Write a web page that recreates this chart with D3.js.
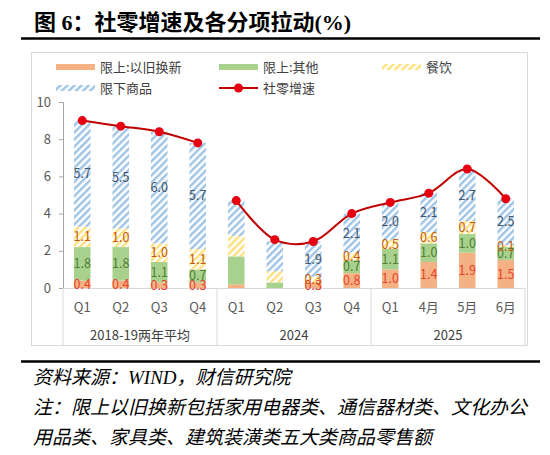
<!DOCTYPE html>
<html lang="zh">
<head>
    <meta charset="utf-8" />
    <title>社零增速及各分项拉动</title>
    <script src="https://d3js.org/d3.v7.min.js"></script>
    <style>
        body { margin: 0; background: #fff; }
        svg { display: block; }
    </style>
</head>
<body>
    <script>
        var w = 550;
        var h = 455;

        // chart data
        var categories = ["Q1", "Q2", "Q3", "Q4", "Q1", "Q2", "Q3", "Q4", "Q1", "4月", "5月", "6月"];
        var groupNames = ["2018-19两年平均", "2024", "2025"];
        var groupSizes = [4, 4, 4];
        var yijiuhuanxin = [0.4, 0.4, 0.3, 0.3, 0.2, 0.0, 0.3, 0.8, 1.0, 1.4, 1.9, 1.5];
        var qita = [1.8, 1.8, 1.1, 0.7, 1.5, 0.3, 0.0, 0.7, 1.1, 1.0, 1.0, 0.7];
        var canyin = [1.1, 1.0, 1.0, 1.1, 1.1, 0.6, 0.3, 0.4, 0.5, 0.6, 0.7, 0.1];
        var xianxia = [5.7, 5.5, 6.0, 5.7, 1.9, 1.6, 1.9, 2.1, 2.0, 2.1, 2.7, 2.5];
        var growth = [9.0, 8.7, 8.4, 7.8, 4.7, 2.6, 2.5, 4.0, 4.6, 5.1, 6.4, 4.8];
        var labelled = [1, 1, 1, 1, 0, 0, 1, 1, 1, 1, 1, 1];
        var seriesNames = ["限上:以旧换新", "限上:其他", "餐饮", "限下商品"];
        var lineName = "社零增速";
        var yTicks = [0, 2, 4, 6, 8, 10];

        var font = "'Noto Sans CJK SC', sans-serif";
        var fills = ["#F4B183", "#A9D18E", "url(#hatchYellow)", "url(#hatchBlue)"];
        var labelColors = ["#E8432B", "#4F7F33", "#C55A11", "#44546A"];

        // plot box (window.top is reserved, so no "top" here)
        var plotLeft = 63, plotRight = 525, plotTop = 102, plotBottom = 288;

        var svg = d3.select("body")
            .append("svg")
            .attr("width", w)
            .attr("height", h);

        // hatch patterns
        var defs = svg.append("defs");
        function hatch(id, color) {
            var p = defs.append("pattern")
                .attr("id", id)
                .attr("patternUnits", "userSpaceOnUse")
                .attr("width", 5)
                .attr("height", 5)
                .attr("patternTransform", "rotate(45)");
            p.append("rect").attr("width", 5).attr("height", 5).attr("fill", "#fff");
            p.append("line")
                .attr("x1", 1.2).attr("y1", 0).attr("x2", 1.2).attr("y2", 5)
                .attr("stroke", color).attr("stroke-width", 2.4);
        }
        hatch("hatchBlue", "#9DC3E6");
        hatch("hatchYellow", "#FFE07A");

        // title
        svg.append("text")
            .attr("x", 34)
            .attr("y", 30)
            .attr("font-family", "'Liberation Serif', 'Noto Sans CJK SC', serif")
            .attr("font-weight", "bold")
            .attr("font-size", "22px")
            .attr("fill", "#000")
            .text("图 6：社零增速及各分项拉动(%)");
        svg.append("line")
            .attr("x1", 21).attr("x2", 540)
            .attr("y1", 38.5).attr("y2", 38.5)
            .attr("stroke", "#000").attr("stroke-width", 2.5);

        // chart frame
        svg.append("rect")
            .attr("x", 31.5).attr("y", 52.5)
            .attr("width", 496).attr("height", 293)
            .attr("fill", "none")
            .attr("stroke", "#D9D9D9");

        var xScale = d3.scaleBand()
            .domain(d3.range(categories.length))
            .range([plotLeft, plotRight])
            .paddingInner(0.57)
            .paddingOuter(0.285);

        var yScale = d3.scaleLinear()
            .domain([0, 10])
            .range([plotBottom, plotTop]);

        // stacked bars
        var table = categories.map(function (c, i) {
            return { i: i, a: yijiuhuanxin[i], b: qita[i], c: canyin[i], d: xianxia[i] };
        });
        var stack = d3.stack().keys(["a", "b", "c", "d"]);
        var layers = stack(table);

        layers.forEach(function (layer, k) {
            svg.append("g")
                .selectAll("rect")
                .data(layer)
                .enter()
                .append("rect")
                .attr("x", function (d) { return xScale(d.data.i); })
                .attr("y", function (d) { return yScale(d[1]); })
                .attr("width", xScale.bandwidth())
                .attr("height", function (d) { return yScale(d[0]) - yScale(d[1]); })
                .attr("fill", fills[k]);
        });

        // y axis
        var yAxis = d3.axisLeft(yScale)
            .tickValues(yTicks)
            .tickSize(4)
            .tickPadding(8);
        var yg = svg.append("g")
            .attr("transform", "translate(" + plotLeft + ",0)")
            .call(yAxis);
        yg.select(".domain").attr("stroke", "#A6A6A6");
        yg.selectAll(".tick line").attr("stroke", "#A6A6A6");
        yg.selectAll("text")
            .attr("font-family", font)
            .attr("font-size", "13px")
            .attr("fill", "#595959");

        // x axis, two levels
        svg.append("line")
            .attr("x1", plotLeft).attr("x2", plotRight)
            .attr("y1", plotBottom + 0.5).attr("y2", plotBottom + 0.5)
            .attr("stroke", "#D9D9D9");

        svg.append("g")
            .selectAll("text")
            .data(categories)
            .enter()
            .append("text")
            .attr("x", function (d, i) { return xScale(i) + xScale.bandwidth() / 2; })
            .attr("y", 312)
            .attr("text-anchor", "middle")
            .attr("font-family", font)
            .attr("font-size", "13px")
            .attr("fill", "#595959")
            .text(function (d) { return d; });

        var starts = [0];
        groupSizes.forEach(function (n, g) { starts.push(starts[g] + n); });
        var step = xScale.step();
        function edge(i) { return plotLeft + i * step; }

        svg.append("g")
            .selectAll("line")
            .data(starts)
            .enter()
            .append("line")
            .attr("x1", function (d) { return edge(d); })
            .attr("x2", function (d) { return edge(d); })
            .attr("y1", plotBottom)
            .attr("y2", 345)
            .attr("stroke", "#D9D9D9");

        svg.append("g")
            .selectAll("text")
            .data(groupNames)
            .enter()
            .append("text")
            .attr("x", function (d, g) { return (edge(starts[g]) + edge(starts[g + 1])) / 2; })
            .attr("y", 340)
            .attr("text-anchor", "middle")
            .attr("font-family", font)
            .attr("font-size", "13px")
            .attr("fill", "#404040")
            .text(function (d) { return d; });

        // data labels in the middle of each segment
        layers.forEach(function (layer, k) {
            svg.append("g")
                .selectAll("text")
                .data(layer.filter(function (d) { return labelled[d.data.i] && d[1] - d[0] > 0; }))
                .enter()
                .append("text")
                .attr("x", function (d) { return xScale(d.data.i) + xScale.bandwidth() / 2; })
                .attr("y", function (d) { return yScale((d[0] + d[1]) / 2) + 4.5; })
                .attr("text-anchor", "middle")
                .attr("font-family", font)
                .attr("font-size", "12.5px")
                .attr("fill", labelColors[k])
                .text(function (d) { return d3.format(".1f")(d[1] - d[0]); });
        });

        // growth line, broken between the first and second group
        var line = d3.line()
            .x(function (d) { return xScale(d) + xScale.bandwidth() / 2; })
            .y(function (d) { return yScale(growth[d]); })
            .curve(d3.curveCatmullRom.alpha(0.5));

        [d3.range(0, 4), d3.range(4, 12)].forEach(function (idx) {
            svg.append("path")
                .attr("d", line(idx))
                .attr("fill", "none")
                .attr("stroke", "#C00000")
                .attr("stroke-width", 2);
        });

        svg.append("g")
            .selectAll("circle")
            .data(growth)
            .enter()
            .append("circle")
            .attr("cx", function (d, i) { return xScale(i) + xScale.bandwidth() / 2; })
            .attr("cy", function (d) { return yScale(d); })
            .attr("r", 4.5)
            .attr("fill", "#E60012");

        // legend
        var legendX = [56, 219, 382];
        var legendY = [67, 88];
        var items = seriesNames.map(function (s, k) { return { name: s, k: k }; });
        items.push({ name: lineName, k: 4 });

        var lg = svg.append("g")
            .selectAll("g")
            .data(items)
            .enter()
            .append("g")
            .attr("transform", function (d, i) {
                return "translate(" + legendX[i % 3] + "," + legendY[Math.floor(i / 3)] + ")";
            });

        lg.filter(function (d) { return d.k < 4; })
            .append("rect")
            .attr("x", 0).attr("y", -3)
            .attr("width", 39).attr("height", 6)
            .attr("fill", function (d) { return fills[d.k]; });

        var ll = lg.filter(function (d) { return d.k === 4; });
        ll.append("line")
            .attr("x1", 0).attr("x2", 39)
            .attr("stroke", "#C00000").attr("stroke-width", 2);
        ll.append("circle")
            .attr("cx", 19.5).attr("r", 4.5)
            .attr("fill", "#E60012");

        lg.append("text")
            .attr("x", 44)
            .attr("y", 5)
            .attr("font-family", font)
            .attr("font-size", "13px")
            .attr("fill", "#404040")
            .text(function (d) { return d.name; });

        // footer
        svg.append("line")
            .attr("x1", 21).attr("x2", 540)
            .attr("y1", 361.5).attr("y2", 361.5)
            .attr("stroke", "#000").attr("stroke-width", 2.5);

        var notes = [
            "资料来源：WIND，财信研究院",
            "注：限上以旧换新包括家用电器类、通信器材类、文化办公",
            "用品类、家具类、建筑装潢类五大类商品零售额"
        ];
        svg.append("g")
            .selectAll("text")
            .data(notes)
            .enter()
            .append("text")
            .attr("x", 33)
            .attr("y", function (d, i) { return 384 + i * 30; })
            .attr("font-family", "'Liberation Serif', 'Noto Sans CJK SC', serif")
            .attr("font-style", "italic")
            .attr("font-size", "19px")
            .attr("fill", "#000")
            .text(function (d) { return d; });
    </script>
</body>
</html>
